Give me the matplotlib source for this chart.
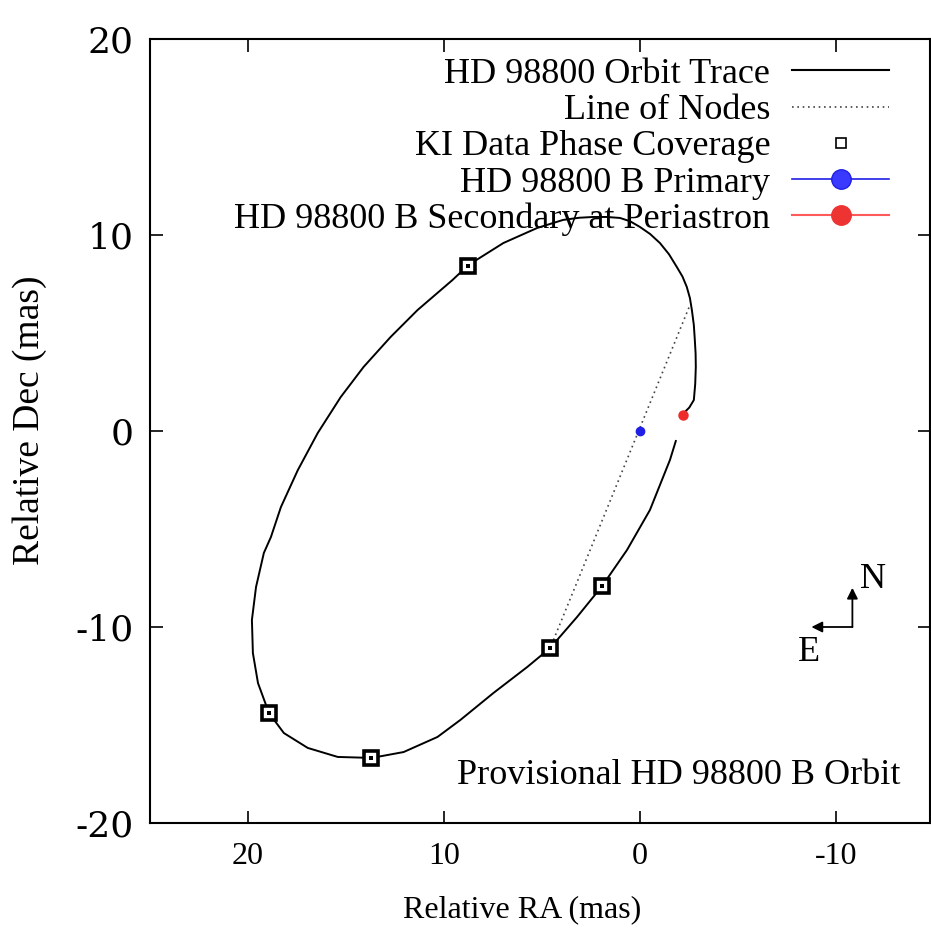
import matplotlib

matplotlib.use("Agg")
import matplotlib.pyplot as plt
from matplotlib.lines import Line2D

plt.rcParams["font.family"] = ["Liberation Serif", "DejaVu Serif"]
plt.rcParams["font.size"] = 23
plt.rcParams["axes.unicode_minus"] = False

# orbit trace (relative RA, relative Dec in mas)
orbit_ra = [-1.83, -1.53, -0.51, 0.66, 1.93, 3.21, 4.58, 5.75, 7.48, 9.16,
            10.33, 12.06, 13.69, 15.42, 16.95, 18.17, 18.93, 19.49, 19.75, 19.80,
            19.59, 19.19, 18.83, 18.32, 17.46, 16.44, 15.27, 14.10, 12.72, 11.35,
            9.57, 8.75, 6.97, 5.24, 3.92, 3.10, 2.39, 1.70, 1.02, 0.50, 0.0, -0.52, -1.02, -1.48, -1.88,
            -2.17, -2.39, -2.55, -2.65, -2.75, -2.80, -2.84, -2.85, -2.82, -2.75, -2.52, -2.24]
orbit_dec = [-0.51, -1.48, -4.03, -6.07, -7.91, -9.49, -11.07, -12.04, -13.37, -14.74,
             -15.61, -16.38, -16.68, -16.63, -16.17, -15.41, -14.39, -12.86, -11.33, -9.64,
             -7.96, -6.22, -5.41, -3.88, -2.00, -0.10, 1.73, 3.27, 4.80, 6.17,
             7.70, 8.47, 9.59, 10.36, 10.77, 10.88, 10.92, 10.92, 10.87, 10.70, 10.41, 10.05, 9.59, 9.02, 8.37,
             7.88, 7.35, 6.78, 6.17, 5.40, 4.64, 3.95, 3.27, 2.40, 1.58, 1.20, 0.92]

nodes_ra = [-2.5, 4.55]
nodes_dec = [6.3, -11.0]

ki_ra = [8.75, 1.95, 4.58, 18.95, 13.70]
ki_dec = [8.42, -7.90, -11.08, -14.40, -16.67]

primary = (0.0, 0.0)
secondary = (-2.2, 0.82)

BLUE = "#1f1fe6"
RED = "#ee2a2a"

fig = plt.figure(figsize=(9.31, 9.35), dpi=100)
ax = fig.add_axes([150 / 931, (935 - 823) / 935, 780 / 931, 784 / 935])

ax.plot(orbit_ra, orbit_dec, color="black", lw=1.4)
ax.plot(nodes_ra, nodes_dec, color="#444444", lw=1.2, ls=(0, (1, 2.2)))
ax.plot(ki_ra, ki_dec, ls="none", marker="s", ms=10.5, mfc="white",
        mec="black", mew=2.6)
ax.plot(ki_ra, ki_dec, ls="none", marker="s", ms=2.5, mfc="black", mec="black", mew=0)
ax.plot(*primary, marker="o", ms=6, color=BLUE, ls="none")
ax.plot(*secondary, marker="o", ms=6.5, color=RED, ls="none")

# compass
ax.annotate("", xy=(-10.84, -8.0), xytext=(-10.84, -10.0),
            arrowprops=dict(arrowstyle="-|>", color="black", lw=1.3,
                            shrinkA=0, shrinkB=0, mutation_scale=16))
ax.annotate("", xy=(-8.75, -10.0), xytext=(-10.84, -10.0),
            arrowprops=dict(arrowstyle="-|>", color="black", lw=1.3,
                            shrinkA=0, shrinkB=0, mutation_scale=16))
ax.text(-11.9, -7.6, "N", ha="center", va="center", fontsize=26)
ax.text(-8.65, -11.3, "E", ha="center", va="center", fontsize=26)

ax.text(0.962, 0.061, "Provisional HD 98800 B Orbit", transform=ax.transAxes,
        ha="right", va="center", fontsize=26)

ax.set_xlim(25, -14.8)
ax.set_ylim(-20, 20)
ax.set_xticks([20, 10, 0, -10])
ax.set_yticks([-20, -10, 0, 10, 20])
ax.tick_params(direction="in", length=9, width=1.2, top=True, right=True, pad=14)
ax.tick_params(axis="x", labelsize=23)
ax.tick_params(axis="y", pad=12)
for lab in ax.get_yticklabels():
    lab.set_family("DejaVu Serif")
    lab.set_fontsize(26)
for sp in ax.spines.values():
    sp.set_linewidth(1.5)
ax.set_xlabel("Relative RA (mas)", fontsize=23, va="center")
ax.xaxis.set_label_coords(0.477, -0.111)
ax.set_ylabel("Relative Dec (mas)", fontsize=27, va="center")
ax.yaxis.set_label_coords(-0.154, 0.514)

handles = [
    Line2D([], [], color="black", lw=1.5),
    Line2D([], [], color="#444444", lw=1.2, ls=(0, (1, 2.2))),
    Line2D([], [], ls="none", marker="s", ms=7, mfc="white", mec="black", mew=1.2),
    Line2D([], [], color=BLUE, lw=1.2, marker="o", ms=14, mfc="#3a3aff", mec=BLUE),
    Line2D([], [], color="#ff5a5a", lw=1.5, marker="o", ms=14, mfc="#ee3333", mec="#ee3333"),
]
labels = ["HD 98800 Orbit Trace", "Line of Nodes", "KI Data Phase Coverage",
          "HD 98800 B Primary", "HD 98800 B Secondary at Periastron"]
ax.legend(handles, labels, loc="upper right", bbox_to_anchor=(0.948, 0.976),
          frameon=False, markerfirst=False, handlelength=2.7, handletextpad=0.6,
          labelspacing=0.08, borderpad=0, borderaxespad=0, fontsize=26)

fig.savefig("out.png", dpi=100)
